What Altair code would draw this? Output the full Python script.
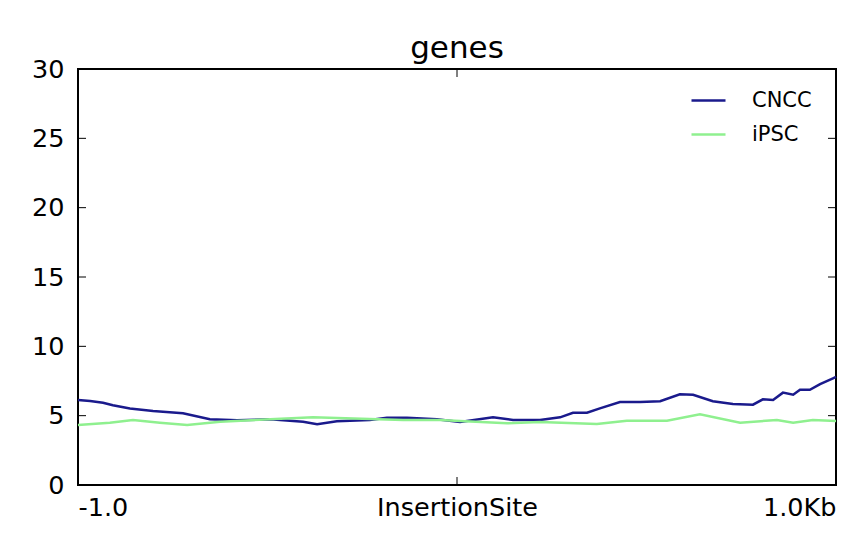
import altair as alt
import pandas as pd

# distance from insertion site (bp) and mean signal
cncc_x = [-1000, -968, -934, -908, -863, -802, -723, -652, -580, -493, -406, -369, -317, -230,
          -185, -132, -53, 8, 95, 148, 219, 272, 306, 343, 377, 430, 483, 536, 588, 623, 675,
          728, 781, 807, 834, 860, 887, 905, 931, 958, 992, 1000]
cncc_y = [6.13, 6.06, 5.93, 5.75, 5.51, 5.34, 5.17, 4.74, 4.67, 4.74, 4.56, 4.38, 4.59, 4.69,
          4.85, 4.85, 4.74, 4.54, 4.88, 4.69, 4.69, 4.88, 5.21, 5.21, 5.53, 5.99, 5.99, 6.04,
          6.54, 6.51, 6.04, 5.84, 5.79, 6.18, 6.13, 6.66, 6.51, 6.87, 6.87, 7.28, 7.69, 7.79]

ipsc_x = [-1000, -916, -855, -784, -712, -625, -493, -380, -230, -142, -45, 8, 132, 219, 369,
          448, 554, 641, 747, 844, 887, 939, 1000]
ipsc_y = [4.33, 4.49, 4.69, 4.49, 4.33, 4.56, 4.74, 4.88, 4.76, 4.69, 4.69, 4.62, 4.45, 4.54,
          4.40, 4.64, 4.64, 5.10, 4.49, 4.69, 4.49, 4.69, 4.62]

series = ["CNCC", "iPSC"]
colors = ["#1a1a8c", "#8ff08f"]
y_ticks = [0, 5, 10, 15, 20, 25, 30]
x_ticks = [-1000, 0, 1000]
x_tick_labels = ["-1.0", "InsertionSite", "1.0Kb"]

W, H = 758, 416
FONT = "DejaVu Sans"

df = pd.concat([
    pd.DataFrame({"pos": cncc_x, "value": cncc_y, "sample": "CNCC", "order": range(len(cncc_x))}),
    pd.DataFrame({"pos": ipsc_x, "value": ipsc_y, "sample": "iPSC", "order": range(len(ipsc_x))}),
])

label_map = "{" + ", ".join(f"'{v}': '{l}'" for v, l in zip(x_ticks, x_tick_labels)) + "}"

xscale = alt.Scale(domain=[-1000, 1000], nice=False, zero=False)
yscale = alt.Scale(domain=[0, 30], nice=False)

lines = alt.Chart(df).mark_line(strokeWidth=2.5).encode(
    x=alt.X("pos:Q", scale=xscale,
            axis=alt.Axis(values=x_ticks, labelExpr=f"{label_map}[datum.value]", title=None,
                          domain=False, ticks=False, grid=False, labelFlush=True,
                          labelFontSize=25.5, labelFont=FONT, labelColor="black", labelPadding=10)),
    y=alt.Y("value:Q", scale=yscale,
            axis=alt.Axis(values=y_ticks, title=None, domain=False, ticks=False, grid=False,
                          labelFontSize=25.5, labelFont=FONT, labelColor="black", labelPadding=14)),
    color=alt.Color("sample:N", scale=alt.Scale(domain=series, range=colors),
                    legend=alt.Legend(title=None, orient="none", legendX=612, legendY=13,
                                      symbolType="stroke", symbolSize=1156, symbolStrokeWidth=2.5,
                                      labelFontSize=21, labelFont=FONT, labelColor="black",
                                      rowPadding=5, labelOffset=25)),
    order="order:Q",
)

ytdf = pd.DataFrame({"v": y_ticks})
xtdf = pd.DataFrame({"v": x_ticks})

ytl = alt.Chart(ytdf).mark_rule(color="black", strokeWidth=1).encode(
    y=alt.Y("v:Q", scale=yscale), x=alt.value(0), x2=alt.value(8))
ytr = alt.Chart(ytdf).mark_rule(color="black", strokeWidth=1).encode(
    y=alt.Y("v:Q", scale=yscale), x=alt.value(W - 8), x2=alt.value(W))
xtb = alt.Chart(xtdf).mark_rule(color="black", strokeWidth=1).encode(
    x=alt.X("v:Q", scale=xscale), y=alt.value(H - 8), y2=alt.value(H))
xtt = alt.Chart(xtdf).mark_rule(color="black", strokeWidth=1).encode(
    x=alt.X("v:Q", scale=xscale), y=alt.value(0), y2=alt.value(8))

chart = alt.layer(lines, ytl, ytr, xtb, xtt).properties(
    width=W, height=H,
    title=alt.TitleParams("genes", fontSize=31, font=FONT, fontWeight="normal", color="black",
                          anchor="middle", frame="group", baseline="bottom", offset=-39),
    autosize=alt.AutoSizeParams(type="none"),
    padding={"left": 70, "top": 61, "right": 20, "bottom": 40},
    background="white",
).configure_view(stroke="black", strokeWidth=2)

chart.save("out.html", embed_options={"renderer": "svg", "actions": False})
